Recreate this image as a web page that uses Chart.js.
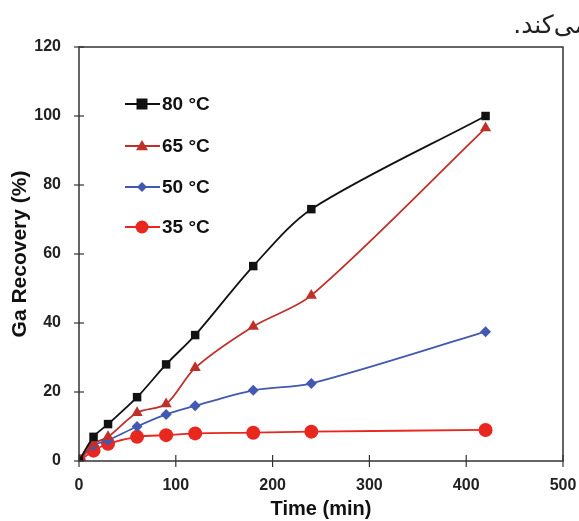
<!DOCTYPE html>
<html>
<head>
<meta charset="utf-8">
<script src="https://cdn.jsdelivr.net/npm/chart.js@4/dist/chart.umd.min.js"></script>
<style>
  body { margin: 0; background: #fff; }
  #wrap { position: relative; width: 579px; height: 521px; overflow: hidden; }
  #note { position: absolute; right: -9px; top: 10px; font-family: "DejaVu Sans", "Noto Sans", sans-serif; font-size: 25px; color: #222; direction: rtl; white-space: nowrap; }
</style>
</head>
<body>
<div id="wrap">
  <canvas id="recoveryChart" width="579" height="521"></canvas>
  <div id="note">می‌کند.</div>
</div>
<script>
    // زمان (دقیقه)
    const times = [0, 15, 30, 60, 90, 120, 180, 240, 420];
    const rec80 = [0, 7, 10.7, 18.5, 28, 36.5, 56.5, 73, 100];
    const rec65 = [0, 5, 7, 14, 16.5, 27, 39, 48, 96.5];
    const rec50 = [0, 4.5, 6, 10, 13.5, 16, 20.5, 22.5, 37.5];
    const rec35 = [0, 3, 5, 7, 7.5, 8, 8.2, 8.5, 9];
    const seriesLabels = ["80 °C", "65 °C", "50 °C", "35 °C"];
    const xTicks = [0, 100, 200, 300, 400, 500];
    const yTicks = [0, 20, 40, 60, 80, 100, 120];

    function toPoints(ys) {
        return times.map((t, i) => ({ x: t, y: ys[i] }));
    }

    const styles = [
        { color: "#111111", point: "rect", r: 6 },
        { color: "#c0302a", point: "triangle", r: 6.5 },
        { color: "#4358b0", point: "rectRot", r: 5.5 },
        { color: "#e8271f", point: "circle", r: 7 },
    ];
    const allData = [rec80, rec65, rec50, rec35];

    // محورها با تیک های متقاطع و قاب
    const framePlugin = {
        id: "frame",
        afterDatasetsDraw(chart) {
            const { ctx, chartArea: a, scales } = chart;
            ctx.save();
            ctx.strokeStyle = "#333";
            ctx.lineWidth = 1.5;
            ctx.strokeRect(a.left, a.top, a.right - a.left, a.bottom - a.top);
            ctx.lineWidth = 1.2;
            yTicks.forEach((v) => {
                const y = scales.y.getPixelForValue(v);
                ctx.beginPath();
                ctx.moveTo(a.left - 5, y);
                ctx.lineTo(a.left + 5, y);
                ctx.stroke();
            });
            xTicks.forEach((v) => {
                const x = scales.x.getPixelForValue(v);
                ctx.beginPath();
                ctx.moveTo(x, a.bottom - 6);
                ctx.lineTo(x, a.bottom + 6);
                ctx.stroke();
            });
            ctx.restore();
        },
    };

    function drawMarker(ctx, type, x, y, r, color) {
        ctx.fillStyle = color;
        ctx.beginPath();
        if (type === "rect") {
            ctx.rect(x - r, y - r, r * 2, r * 2);
        } else if (type === "triangle") {
            ctx.moveTo(x, y - r);
            ctx.lineTo(x + r, y + r * 0.7);
            ctx.lineTo(x - r, y + r * 0.7);
            ctx.closePath();
        } else if (type === "rectRot") {
            ctx.moveTo(x, y - r);
            ctx.lineTo(x + r, y);
            ctx.lineTo(x, y + r);
            ctx.lineTo(x - r, y);
            ctx.closePath();
        } else {
            ctx.arc(x, y, r, 0, Math.PI * 2);
        }
        ctx.fill();
    }

    // راهنمای داخل نمودار
    const legendPlugin = {
        id: "innerLegend",
        afterDraw(chart) {
            const ctx = chart.ctx;
            const rows = [104, 146, 187, 227];
            ctx.save();
            seriesLabels.forEach((label, i) => {
                const s = styles[i];
                const y = rows[i];
                ctx.strokeStyle = s.color;
                ctx.lineWidth = 2;
                ctx.beginPath();
                ctx.moveTo(125, y);
                ctx.lineTo(160, y);
                ctx.stroke();
                drawMarker(ctx, s.point, 142, y, s.r - 0.5, s.color);
                ctx.fillStyle = "#111";
                ctx.font = "bold 19px 'Liberation Sans', Arial, sans-serif";
                ctx.textBaseline = "middle";
                ctx.textAlign = "left";
                ctx.fillText(label, 162, y + 1);
            });
            ctx.restore();
        },
    };

    const datasets = allData.map((d, i) => ({
        label: seriesLabels[i],
        data: toPoints(d),
        borderColor: styles[i].color,
        backgroundColor: styles[i].color,
        borderWidth: 1.8,
        pointStyle: styles[i].point,
        pointRadius: styles[i].r,
        pointBorderWidth: 0,
        tension: 0.3,
    }));

    const tickFont = { family: "'Liberation Sans', Arial, sans-serif", size: 16, weight: "bold" };

    new Chart(document.getElementById("recoveryChart"), {
        type: "line",
        data: { datasets: datasets },
        options: {
            responsive: false,
            animation: false,
            layout: { padding: { top: 47, right: 16, left: 8, bottom: 0 } },
            plugins: { legend: { display: false }, tooltip: { enabled: false } },
            scales: {
                x: {
                    type: "linear",
                    min: 0,
                    max: 500,
                    afterBuildTicks: (s) => { s.ticks = xTicks.map((v) => ({ value: v })); },
                    afterFit: (s) => { s.height = 60; s.paddingRight = 0; s.paddingLeft = 0; },
                    grid: { display: false },
                    border: { display: false },
                    ticks: { color: "#222", font: tickFont, padding: 7 },
                    title: { display: true, text: "Time (min)", color: "#111",
                        font: { family: "'Liberation Sans', Arial, sans-serif", size: 20, weight: "bold" }, padding: { top: 0, bottom: 0 } },
                },
                y: {
                    min: 0,
                    max: 120,
                    afterBuildTicks: (s) => { s.ticks = yTicks.map((v) => ({ value: v })); },
                    afterFit: (s) => { s.width = 71; },
                    grid: { display: false },
                    border: { display: false },
                    ticks: { color: "#222", font: tickFont, padding: 10 },
                    title: { display: true, text: "Ga Recovery (%)", color: "#111",
                        font: { family: "'Liberation Sans', Arial, sans-serif", size: 21, weight: "bold" }, padding: { top: 0, bottom: 4 } },
                },
            },
        },
        plugins: [framePlugin, legendPlugin],
    });
</script>
</body>
</html>
